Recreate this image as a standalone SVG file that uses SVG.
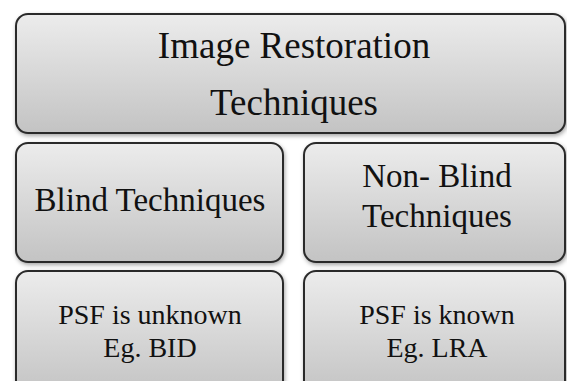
<svg xmlns="http://www.w3.org/2000/svg" width="567" height="381" viewBox="0 0 567 381">
  <defs>
    <linearGradient id="g" x1="0" y1="0" x2="0" y2="1">
      <stop offset="0" stop-color="#ececec"/>
      <stop offset="1" stop-color="#c3c3c3"/>
    </linearGradient>
    <filter id="sh" x="-5%" y="-5%" width="110%" height="115%">
      <feDropShadow dx="1" dy="2" stdDeviation="2" flood-color="#000" flood-opacity="0.35"/>
    </filter>
  </defs>
  <style>
    .box { fill: url(#g); stroke: #2b2b2b; stroke-width: 2; filter: url(#sh); }
    .t { font-family: "Liberation Serif", "Times New Roman", serif; fill: #111; text-anchor: middle; }
    .t1 { font-size: 37px; }
    .t2 { font-size: 33px; }
    .t3 { font-size: 28px; }
  </style>
  <rect width="567" height="381" fill="#ffffff"/>
  <g id="connectors"></g>
  <g id="root">
    <rect class="box" x="16" y="14" width="549" height="119" rx="12"/>
    <text class="t t1" x="294" y="58">Image Restoration</text>
    <text class="t t1" x="294" y="115">Techniques</text>
  </g>
  <g id="blind">
    <rect class="box" x="16" y="143" width="267" height="119" rx="12"/>
    <text class="t t2" x="150" y="211">Blind Techniques</text>
  </g>
  <g id="nonblind">
    <rect class="box" x="304" y="143" width="261" height="119" rx="12"/>
    <text class="t t2" x="437" y="187">Non- Blind</text>
    <text class="t t2" x="437" y="227">Techniques</text>
  </g>
  <g id="blind-desc">
    <rect class="box" x="16" y="271" width="267" height="125" rx="12"/>
    <text class="t t3" x="150" y="324">PSF is unknown</text>
    <text class="t t3" x="150" y="357">Eg. BID</text>
  </g>
  <g id="nonblind-desc">
    <rect class="box" x="304" y="271" width="261" height="125" rx="12"/>
    <text class="t t3" x="437" y="324">PSF is known</text>
    <text class="t t3" x="437" y="357">Eg. LRA</text>
  </g>
</svg>
